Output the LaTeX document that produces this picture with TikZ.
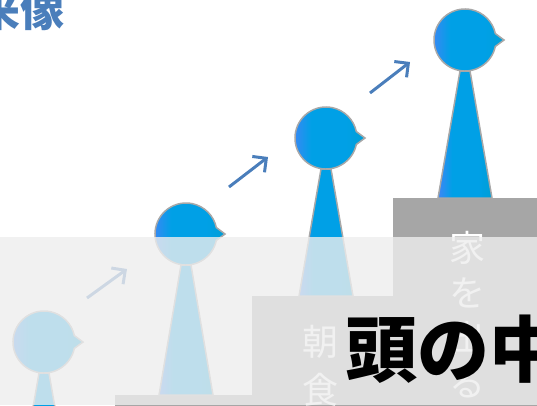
\documentclass[tikz,border=0pt]{standalone}
\usepackage{fontspec}
\newfontfamily\jp{Noto Sans CJK JP}
\usetikzlibrary{arrows.meta}
\usetikzlibrary{positioning}

\definecolor{figL}{RGB}{62,134,245}
\definecolor{figM}{RGB}{0,160,230}
\definecolor{figR}{RGB}{0,158,214}
\definecolor{edgegray}{RGB}{168,168,168}
\definecolor{stepgray}{RGB}{166,166,166}
\definecolor{arrowblue}{RGB}{74,126,187}
\definecolor{veil}{RGB}{238,238,238}

% blue to cyan, left to right
\pgfdeclarehorizontalshading{figshade}{100bp}{color(0bp)=(figL); color(25bp)=(figL); color(38bp)=(figM); color(62bp)=(figM); color(75bp)=(figR); color(100bp)=(figR)}

\begin{document}
\begin{tikzpicture}[x=1pt,y=-1pt,
    figure/.style={shading=figshade, draw=edgegray, line width=1.5},
    upstep/.style={-{Straight Barb[length=10,width=20]}, arrowblue, line width=3},
    whitechar/.style={anchor=base, inner sep=0, text=white, font=\jp\fontsize{36}{36}\selectfont}
    ]
\useasboundingbox (0,0) rectangle (537,405);
\clip (0,0) rectangle (537,405);

% stairs
\fill[stepgray] (115,410) -- (115,395) -- (252,395) -- (252,296) -- (393,296) -- (393,198) -- (545,198) -- (545,410) -- cycle;

% figures: head x / head y / foot y
\foreach \cx/\cy/\fy in {44/342/500, 186/234/395, 326/138/296, 465/40/198}{
  \shadedraw[figure] ({\cx-5},{\cy+31}) -- ({\cx+5},{\cy+31}) -- ({\cx+27},\fy) -- ({\cx-27},\fy) -- cycle;
  \shadedraw[figure] (\cx,\cy) ++(12:31) arc[start angle=12, end angle=348, radius=31] -- ({\cx+39},\cy) -- cycle;
}

% arrows between the figures
\coordinate (a1) at (87,298);
\coordinate (b1) at (127,269);
\coordinate (a2) at (229,187);
\coordinate (b2) at (268,157);
\coordinate (a3) at (370,93);
\coordinate (b3) at (410,62);
\draw[upstep] (a1) -- (b1);
\draw[upstep] (a2) -- (b2);
\draw[upstep] (a3) -- (b3);

% step labels
\foreach \c [count=\i from 0] in {家,を,出,る}
  \node[whitechar] (leave\i) at (467,{261+45*\i}) {\c};
\foreach \c [count=\i from 0] in {朝,食}
  \node[whitechar] (meal\i) at (320,{355+48*\i}) {\c};

% faded lower half
\fill[veil, fill opacity=0.8] (0,237) rectangle (537,405);

\node[anchor=base west, inner sep=0, font=\jp\bfseries\fontsize{72}{72}\selectfont] (inside) at (345,376) {頭の中};
\node[anchor=base west, inner sep=0, text=arrowblue, font=\jp\bfseries\fontsize{44}{44}\selectfont] (title) at (-24,26) {来像};
\end{tikzpicture}
\end{document}
